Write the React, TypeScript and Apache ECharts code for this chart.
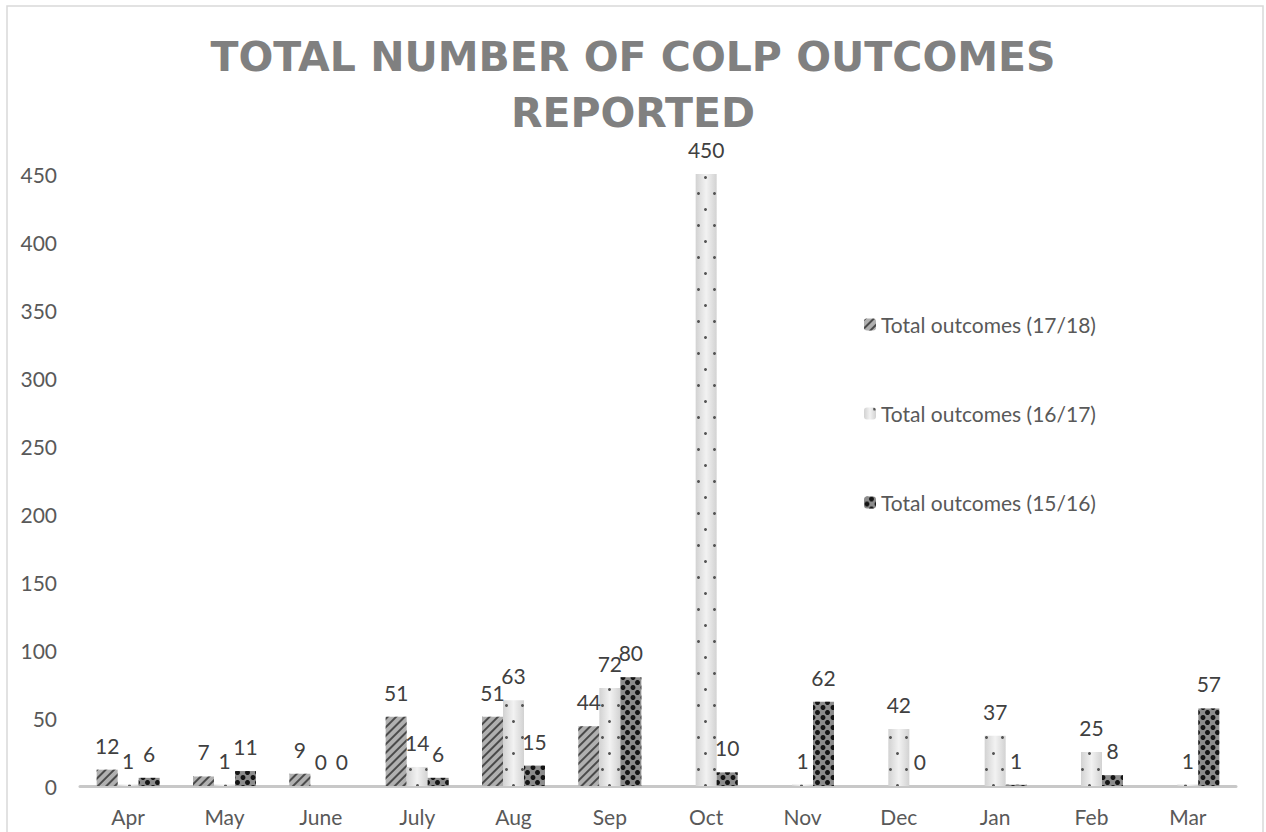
import React, { useEffect, useRef } from 'react';
import * as echarts from 'echarts';

const months = ['Apr', 'May', 'June', 'July', 'Aug', 'Sep', 'Oct', 'Nov', 'Dec', 'Jan', 'Feb', 'Mar'];
const seriesNames = ['Total outcomes (17/18)', 'Total outcomes (16/17)', 'Total outcomes (15/16)'];
const outcomes1718 = [12, 7, 9, 51, 51, 44, null, null, null, null, null, null];
const outcomes1617 = [1, 1, 0, 14, 63, 72, 450, 1, 42, 37, 25, 1];
const outcomes1516 = [6, 11, 0, 6, 15, 80, 10, 62, 0, 1, 8, 57];
const titleLines = ['TOTAL NUMBER OF COLP OUTCOMES', 'REPORTED'];

const FONT = 'Lato, "Open Sans", sans-serif';

export default function App() {
  const ref = useRef<HTMLDivElement>(null);
  useEffect(() => {
    document.body.style.margin = '0';
    const chart = echarts.init(ref.current as HTMLDivElement, null, { renderer: 'svg' });
    const label = {
      show: true,
      position: 'top',
      distance: 14,
      fontSize: 21,
      fontFamily: FONT,
      color: '#404040',
    };
    const titleStyle = {
      fontFamily: '"DejaVu Sans", sans-serif',
      fontWeight: 'bold',
      fontSize: 41,
      lineHeight: 40,
      color: '#808080',
    };
    chart.setOption({
      animation: false,
      backgroundColor: '#ffffff',
      graphic: [
        {
          type: 'rect',
          shape: { x: 7, y: 6, width: 1256, height: 840 },
          style: { fill: 'none', stroke: '#d9d9d9', lineWidth: 1.5 },
          silent: true,
          z: -1,
        },
      ],
      title: [
        { text: titleLines[0], left: 'center', top: 37, padding: 0, textStyle: titleStyle },
        { text: titleLines[1], left: 'center', top: 93, padding: 0, textStyle: titleStyle },
      ],
      legend: {
        orient: 'vertical',
        left: 859,
        top: 309,
        itemWidth: 12,
        itemHeight: 12,
        itemGap: 68,
        data: seriesNames,
        textStyle: { fontFamily: FONT, fontSize: 21, color: '#595959' },
      },
      grid: { left: 80, right: 30, top: 174, bottom: 46, containLabel: false },
      xAxis: {
        type: 'category',
        data: months,
        axisLine: { show: true, lineStyle: { color: '#c8c8c8', width: 3 } },
        axisTick: { show: false },
        axisLabel: { fontFamily: FONT, fontSize: 21, color: '#595959', margin: 20 },
      },
      yAxis: {
        type: 'value',
        min: 0,
        max: 450,
        interval: 50,
        axisLine: { show: false },
        axisTick: { show: false },
        splitLine: { show: false },
        axisLabel: { fontFamily: FONT, fontSize: 21, color: '#595959', margin: 23 },
      },
      series: [
        {
          name: seriesNames[0],
          type: 'bar',
          data: outcomes1718,
          barWidth: 21,
          barGap: '0%',
          label,
          itemStyle: {
            color: '#b0b0b0',
            decal: {
              symbol: 'rect',
              symbolSize: 1,
              color: '#4a4a4a',
              dashArrayX: [1, 0],
              dashArrayY: [2, 4],
              rotation: -Math.PI / 4,
            },
          },
        },
        {
          name: seriesNames[1],
          type: 'bar',
          data: outcomes1617,
          barWidth: 21,
          barGap: '0%',
          label,
          itemStyle: {
            color: {
              type: 'linear',
              x: 0,
              y: 0,
              x2: 1,
              y2: 0,
              colorStops: [
                { offset: 0, color: '#d2d2d2' },
                { offset: 0.5, color: '#f2f2f2' },
                { offset: 1, color: '#d2d2d2' },
              ],
            },
            decal: {
              symbol: 'circle',
              symbolSize: 1,
              color: '#555555',
              dashArrayX: [[3, 13], [0, 9, 3, 4]],
              dashArrayY: [3, 13],
              rotation: 0,
            },
          },
        },
        {
          name: seriesNames[2],
          type: 'bar',
          data: outcomes1516,
          barWidth: 21,
          barGap: '0%',
          label,
          itemStyle: {
            color: '#8c8c8c',
            decal: {
              symbol: 'circle',
              symbolSize: 1,
              color: '#151515',
              dashArrayX: [[6, 4], [0, 5, 5, 0]],
              dashArrayY: [5, 0],
              rotation: 0,
            },
          },
        },
      ],
    });
    return () => chart.dispose();
  }, []);
  return <div ref={ref} style={{ width: 1266, height: 832 }} />;
}
